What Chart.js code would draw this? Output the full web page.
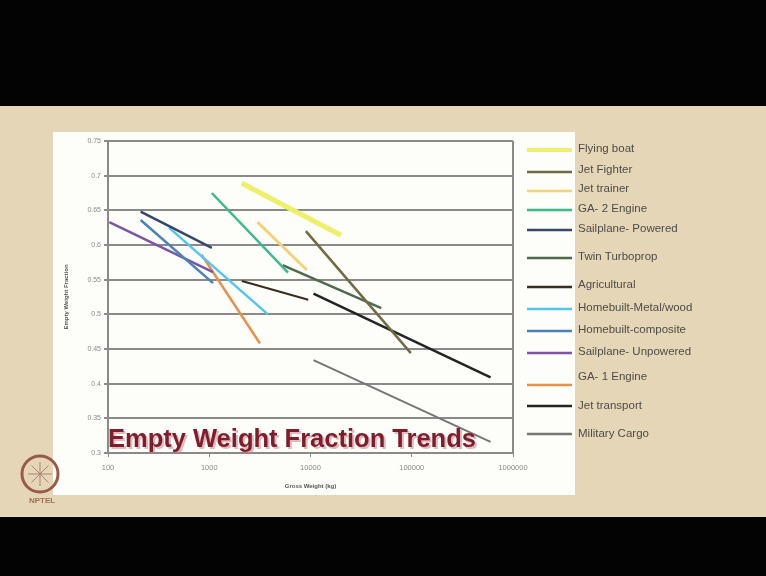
<!DOCTYPE html>
<html>
<head>
<meta charset="utf-8">
<script src="https://cdn.jsdelivr.net/npm/chart.js@4/dist/chart.umd.min.js"></script>
<style>
html,body{margin:0;padding:0;background:#000;}
#wrap{width:766px;height:576px;position:relative;}
</style>
</head>
<body>
<div id="wrap"><canvas id="c" width="766" height="576"></canvas></div>
<script>
// ---- data ----
const seriesNames = ["Flying boat","Jet Fighter","Jet trainer","GA- 2 Engine","Sailplane- Powered","Twin Turboprop","Agricultural","Homebuilt-Metal/wood","Homebuilt-composite","Sailplane- Unpowered","GA- 1 Engine","Jet transport","Military Cargo"];
const weightStart   = [2100, 9000, 3000, 1060, 210, 5300, 2100, 400, 210, 103, 840, 10700, 10700];
const weightEnd     = [20000, 98000, 9200, 6000, 1060, 50000, 9500, 3800, 1090, 1090, 3170, 600000, 600000];
const fractionStart = [0.689, 0.620, 0.633, 0.675, 0.648, 0.571, 0.548, 0.625, 0.636, 0.633, 0.586, 0.530, 0.434];
const fractionEnd   = [0.614, 0.444, 0.564, 0.560, 0.596, 0.509, 0.521, 0.500, 0.545, 0.561, 0.458, 0.409, 0.316];
const yTickValues = [0.3,0.35,0.4,0.45,0.5,0.55,0.6,0.65,0.7,0.75];
const yTickLabels = ["0.3","0.35","0.4","0.45","0.5","0.55","0.6","0.65","0.7","0.75"];
const xTickValues = [100,1000,10000,100000,1000000];
const xTickLabels = ["100","1000","10000","100000","1000000"];

// ---- styles ----
const colors = ["#EEF06A","#6E6B45","#F3D27A","#3DB98E","#39466C","#4E6A4E","#3A2C22","#52C6EE","#4C82B8","#7C55A8","#E8904E","#232323","#767676"];
const widths = [5,2.5,3,2.5,2.5,2.5,2,2.5,2.5,2.5,2.5,2.5,2];

const datasets = seriesNames.map((n,i)=>({
  label:n,
  data:[{x:weightStart[i],y:fractionStart[i]},{x:weightEnd[i],y:fractionEnd[i]}],
  borderColor:colors[i],
  backgroundColor:colors[i],
  borderWidth:widths[i],
  pointRadius:0,
  fill:false,
  tension:0
}));

const legendLineY = [150,172,191,210,230,258,287,309,331,353,385,406,434];
const legendTextY = [149,170,189,209,229,257,285,308,330,352,377,406,434];

const decor = {
  id:'decor',
  beforeDraw(chart){
    const ctx = chart.ctx;
    ctx.save();
    ctx.fillStyle = '#030303';
    ctx.fillRect(0,0,766,576);
    ctx.fillStyle = '#E5D6B8';
    ctx.fillRect(0,106,766,411);
    ctx.fillStyle = '#FDFDF9';
    ctx.fillRect(53,132,522,363);
    ctx.restore();
  },
  beforeDatasetsDraw(chart){
    const ctx = chart.ctx, a = chart.chartArea;
    ctx.save();
    ctx.strokeStyle = '#8a8a8a';
    ctx.lineWidth = 2;
    ctx.beginPath();
    ctx.moveTo(a.right, a.top); ctx.lineTo(a.right, a.bottom);
    ctx.stroke();
    ctx.restore();
  },
  afterDraw(chart){
    const ctx = chart.ctx;
    ctx.save();
    // legend
    chart.data.datasets.forEach((ds,i)=>{
      ctx.strokeStyle = ds.borderColor;
      ctx.lineWidth = i===0 ? 4 : 2.5;
      ctx.beginPath();
      ctx.moveTo(527, legendLineY[i]); ctx.lineTo(572, legendLineY[i]);
      ctx.stroke();
      ctx.fillStyle = '#4e4c46';
      ctx.font = '11.5px "Liberation Sans", Arial, sans-serif';
      ctx.textBaseline = 'middle';
      ctx.textAlign = 'left';
      ctx.fillText(ds.label, 578, legendTextY[i]);
    });
    // slide title
    ctx.font = 'bold 25.5px "Liberation Sans", Arial, sans-serif';
    ctx.textBaseline = 'alphabetic';
    ctx.fillStyle = 'rgba(200,120,130,0.5)';
    ctx.fillText('Empty Weight Fraction Trends', 110, 449);
    ctx.fillStyle = '#7E1E2C';
    ctx.fillText('Empty Weight Fraction Trends', 108, 447);
    // logo
    ctx.strokeStyle = '#9a5a4a';
    ctx.lineWidth = 3;
    ctx.beginPath(); ctx.arc(40,474,18,0,Math.PI*2); ctx.stroke();
    ctx.lineWidth = 1;
    ctx.strokeStyle = '#b08070';
    for(let k=0;k<8;k++){
      const t = k*Math.PI/4;
      ctx.beginPath(); ctx.moveTo(40,474); ctx.lineTo(40+12*Math.cos(t),474+12*Math.sin(t)); ctx.stroke();
    }
    ctx.fillStyle = '#a07050';
    ctx.font = 'bold 8px "Liberation Sans", Arial, sans-serif';
    ctx.textAlign = 'center';
    ctx.textBaseline = 'middle';
    ctx.fillText('NPTEL', 42, 501);
    ctx.restore();
  }
};

new Chart(document.getElementById('c'), {
  type:'line',
  data:{datasets},
  options:{
    responsive:false,
    animation:false,
    parsing:true,
    layout:{padding:{left:63,right:253,top:141,bottom:78}},
    plugins:{legend:{display:false},tooltip:{enabled:false},title:{display:false}},
    scales:{
      x:{
        type:'logarithmic',
        min:100, max:1000000,
        afterBuildTicks(s){ s.ticks = xTickValues.map(v=>({value:v})); },
        afterFit(s){ s.height = 45; },
        ticks:{
          autoSkip:false, maxRotation:0,
          color:'#8a8a8a', font:{size:7.5,family:'"Liberation Sans", Arial, sans-serif'},
          padding:6,
          callback:(v)=>{ const k = xTickValues.indexOf(v); return k>=0 ? xTickLabels[k] : ''; }
        },
        grid:{drawOnChartArea:false, color:'#8a8a8a', tickLength:4, lineWidth:1},
        border:{color:'#8a8a8a', width:2},
        title:{display:true, text:'Gross Weight (kg)', color:'#555', font:{size:6,weight:'bold',family:'"Liberation Sans", Arial, sans-serif'}, padding:{top:4,bottom:8}}
      },
      y:{
        type:'linear',
        min:0.3, max:0.75,
        afterBuildTicks(s){ s.ticks = yTickValues.map(v=>({value:v})); },
        afterFit(s){ s.width = 45; },
        ticks:{
          color:'#8a8a8a', font:{size:7,family:'"Liberation Sans", Arial, sans-serif'},
          padding:3,
          callback:(v)=>{ const k = yTickValues.findIndex(t=>Math.abs(t-v)<1e-9); return k>=0 ? yTickLabels[k] : ''; }
        },
        grid:{color:'#8a8a8a', lineWidth:2, tickLength:4},
        border:{color:'#8a8a8a', width:2},
        title:{display:true, text:'Empty Weight Fraction', color:'#555', font:{size:6,weight:'bold',family:'"Liberation Sans", Arial, sans-serif'}, padding:{top:0,bottom:0}}
      }
    }
  },
  plugins:[decor]
});
</script>
</body>
</html>
